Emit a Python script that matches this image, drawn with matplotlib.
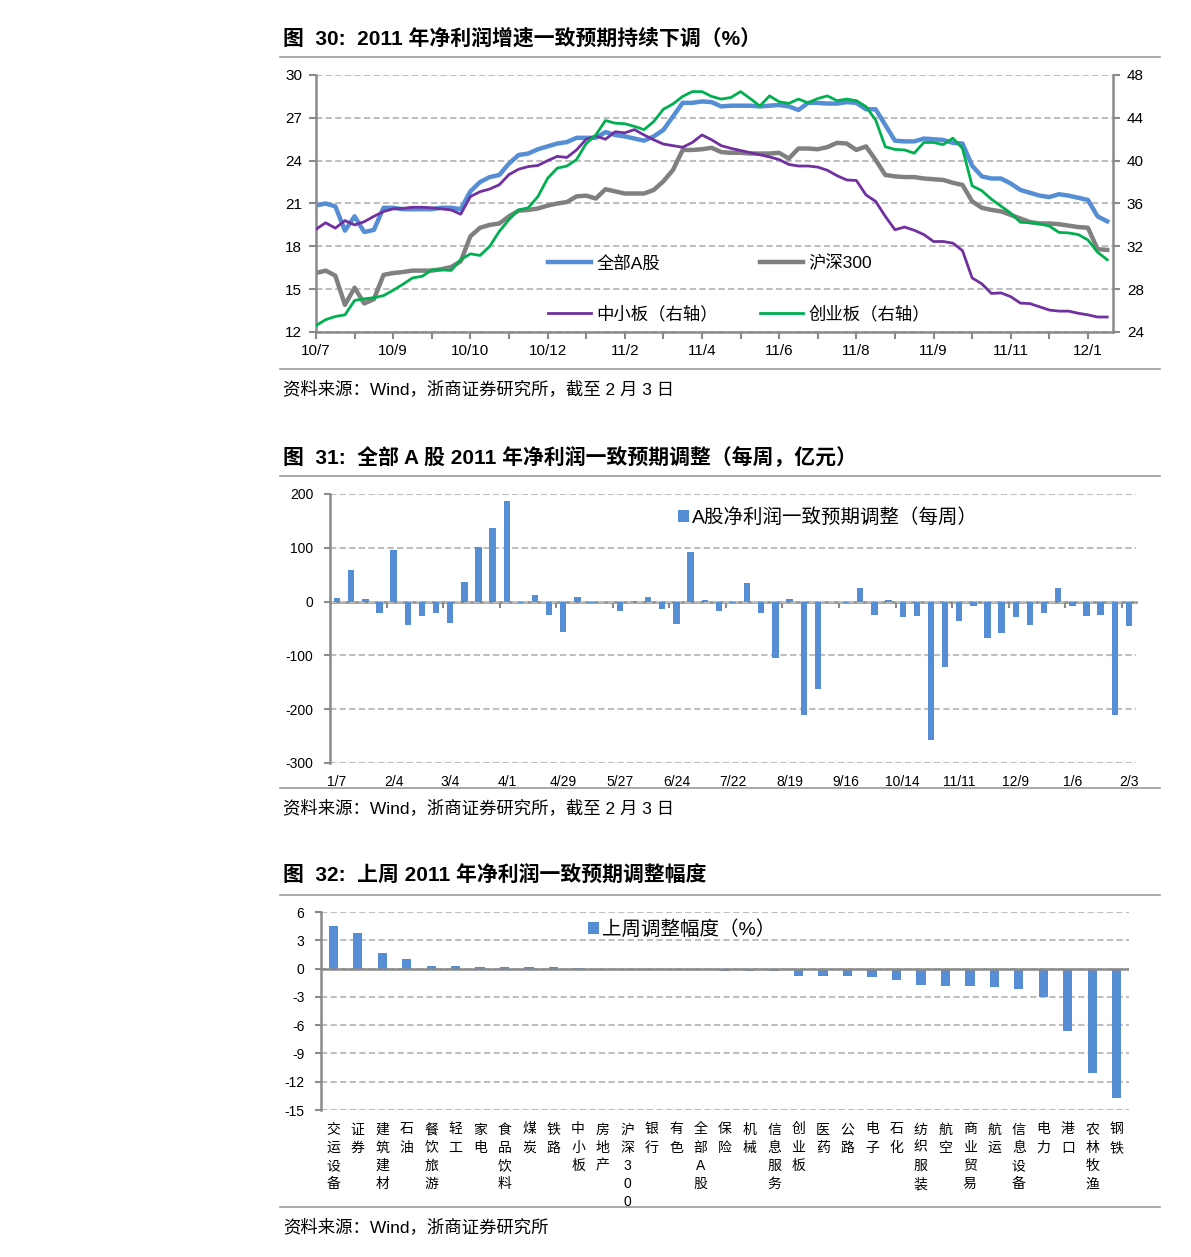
import matplotlib.pyplot as plt
from matplotlib.lines import Line2D
import numpy as np

plt.rcParams['font.family'] = ['Liberation Sans', 'Noto Sans CJK SC', 'DejaVu Sans']
plt.rcParams['axes.unicode_minus'] = False

############ DATA : figure 30 (weekly, 10/7 .. 12/1) ############
month_labels = ['10/7', '10/9', '10/10', '10/12', '11/2', '11/4', '11/6', '11/8', '11/9', '11/11', '12/1']
all_a = [20.86, 21.0, 20.8, 19.1, 20.1, 19.0, 19.15, 20.7, 20.7, 20.6,
         20.6, 20.6, 20.6, 20.7, 20.7, 20.6, 21.85, 22.5, 22.85, 23.0,
         23.8, 24.4, 24.5, 24.8, 25.0, 25.2, 25.3, 25.6, 25.6, 25.6,
         26.0, 25.8, 25.7, 25.55, 25.4, 25.7, 26.15, 27.1, 28.05, 28.05,
         28.15, 28.1, 27.8, 27.85, 27.85, 27.85, 27.8, 27.85, 27.9, 27.8,
         27.55, 28.05, 28.05, 28.0, 28.0, 28.1, 28.05, 27.6, 27.6, 26.5,
         25.4, 25.35, 25.35, 25.55, 25.5, 25.45, 25.25, 25.2, 23.65, 22.9,
         22.75, 22.75, 22.4, 21.95, 21.75, 21.55, 21.45, 21.65, 21.55, 21.4,
         21.25, 20.1, 19.75]
hs300 = [16.13, 16.3, 15.95, 13.9, 15.1, 14.0, 14.3, 16.0, 16.13, 16.2,
         16.3, 16.3, 16.3, 16.4, 16.55, 16.95, 18.7, 19.3, 19.5, 19.6,
         20.1, 20.5, 20.55, 20.65, 20.85, 21.0, 21.1, 21.5, 21.55, 21.35,
         22.0, 21.85, 21.7, 21.7, 21.7, 21.95, 22.55, 23.35, 24.75, 24.75,
         24.8, 24.9, 24.6, 24.55, 24.55, 24.5, 24.5, 24.5, 24.55, 24.15,
         24.85, 24.85, 24.8, 24.95, 25.25, 25.2, 24.75, 25.0, 24.05, 23.0,
         22.9, 22.85, 22.85, 22.75, 22.7, 22.65, 22.45, 22.3, 21.15, 20.7,
         20.55, 20.45, 20.2, 19.95, 19.7, 19.6, 19.6, 19.55, 19.45, 19.35,
         19.3, 17.8, 17.75]
sme = [33.6, 34.2, 33.7, 34.4, 34.0, 34.3, 34.8, 35.25, 35.5, 35.55,
       35.65, 35.65, 35.6, 35.5, 35.4, 35.0, 36.65, 37.1, 37.35, 37.75,
       38.7, 39.2, 39.45, 39.55, 40.0, 40.4, 40.3, 41.0, 42.0, 42.3,
       42.0, 42.7, 42.6, 42.9, 42.4, 41.95, 41.55, 41.4, 41.25, 41.7,
       42.4, 41.95, 41.4, 41.15, 40.95, 40.75, 40.55, 40.35, 40.1, 39.65,
       39.5, 39.5, 39.4, 39.1, 38.6, 38.2, 38.15, 36.8, 36.2, 34.8,
       33.55, 33.8, 33.5, 33.1, 32.45, 32.45, 32.3, 31.6, 29.05, 28.5,
       27.6, 27.65, 27.3, 26.7, 26.65, 26.35, 26.05, 25.95, 25.95, 25.75,
       25.6, 25.4, 25.4]
gem = [24.6, 25.15, 25.45, 25.6, 26.95, 27.1, 27.2, 27.4, 27.9, 28.45,
       29.05, 29.2, 29.8, 29.8, 29.75, 30.75, 31.3, 31.15, 32.0, 33.4,
       34.5, 35.4, 35.6, 36.65, 38.35, 39.3, 39.5, 40.1, 41.6, 42.4,
       43.75, 43.5, 43.45, 43.2, 42.9, 43.65, 44.8, 45.3, 46.0, 46.45,
       46.45, 46.0, 45.75, 45.9, 46.45, 45.8, 45.1, 46.05, 45.5, 45.35,
       45.75, 45.4, 45.8, 46.05, 45.6, 45.75, 45.6, 45.05, 43.8, 41.3,
       41.05, 41.0, 40.7, 41.7, 41.7, 41.5, 42.1, 41.15, 37.65, 37.2,
       36.4, 35.75, 35.1, 34.25, 34.2, 34.1, 33.9, 33.3, 33.25, 33.1,
       32.6, 31.45, 30.75]

############ DATA : figure 31 (weekly adjustment, 1/7 .. 2/3) ############
week_labels = ['1/7', '2/4', '3/4', '4/1', '4/29', '5/27', '6/24', '7/22',
               '8/19', '9/16', '10/14', '11/11', '12/9', '1/6', '2/3']
weekly_adj = [7, 58, 5, -22, 95, -43, -27, -22, -39, 37,
              102, 136, 187, -3, 12, -24, -56, 9, -3, -1,
              -17, 1, 9, -14, -41, 92, 3, -18, -2, 34,
              -22, -104, 4, -211, -163, -1, -2, 25, -24, 3,
              -28, -27, -257, -121, -36, -9, -67, -58, -28, -43,
              -22, 25, -9, -27, -24, -211, -46]

############ DATA : figure 32 (last week by sector) ############
sectors = ['交运设备', '证券', '建筑建材', '石油', '餐饮旅游', '轻工', '家电', '食品饮料',
           '煤炭', '铁路', '中小板', '房地产', '沪深300', '银行', '有色', '全部A股',
           '保险', '机械', '信息服务', '创业板', '医药', '公路', '电子', '石化',
           '纺织服装', '航空', '商业贸易', '航运', '信息设备', '电力', '港口', '农林牧渔', '钢铁']
sector_adj = [4.5, 3.8, 1.7, 1.0, 0.3, 0.3, 0.15, 0.15,
              0.15, 0.15, 0.03, 0.0, 0.0, -0.15, -0.15, -0.15,
              -0.28, -0.28, -0.28, -0.75, -0.75, -0.75, -0.9, -1.2,
              -1.75, -1.9, -1.9, -2.0, -2.15, -3.0, -6.6, -11.1, -13.7]

#################### STYLE ####################
BLUE = '#558ED5'
GRAY = '#808080'
PURPLE = '#7030A0'
GREEN = '#00B050'
AXC = '#8A8A8A'
GRIDC = '#BFBFBF'
W, H = 1191, 1257

fig = plt.figure(figsize=(W / 100, H / 100), dpi=100)

def fx(px):
    return px / W

def fy(py):
    return 1 - py / H

def box(left, right, top, bottom):
    return [fx(left), fy(bottom), (right - left) / W, (bottom - top) / H]

def style_axes(ax):
    for s in ['top', 'right', 'bottom', 'left']:
        ax.spines[s].set_visible(False)
    ax.spines['left'].set_visible(True)
    ax.spines['left'].set_color(AXC)
    ax.spines['left'].set_linewidth(1.8)
    ax.yaxis.grid(True, color=GRIDC, linewidth=1.5, linestyle=(0, (3, 1.6)))
    ax.set_axisbelow(True)
    ax.tick_params(axis='y', colors=AXC, labelcolor='black', length=4, width=1.5)

# titles, separator lines and sources
titles = [(38, '图  30:  2011 年净利润增速一致预期持续下调（%）'),
          (457, '图  31:  全部 A 股 2011 年净利润一致预期调整（每周，亿元）'),
          (875, '图  32:  上周 2011 年净利润一致预期调整幅度')]
for y, t in titles:
    fig.text(fx(283), fy(y), t, fontsize=15, fontweight='bold', va='center', ha='left')
sources = [(389, '资料来源：Wind，浙商证券研究所，截至 2 月 3 日'),
           (808, '资料来源：Wind，浙商证券研究所，截至 2 月 3 日'),
           (1227, '资料来源：Wind，浙商证券研究所')]
for y, t in sources:
    fig.text(fx(283), fy(y), t, fontsize=12.5, va='center', ha='left')
for y in [57, 369, 476, 788, 895, 1207]:
    fig.add_artist(Line2D([fx(280), fx(1160)], [fy(y), fy(y)], color='#9A9A9A', lw=1.2))

################ Figure 30 ################
ax1 = fig.add_axes(box(316, 1113, 75, 332))
ax2 = ax1.twinx()
x = np.arange(len(all_a))
l1, = ax1.plot(x, all_a, color=BLUE, lw=3.2, label='全部A股')
l2, = ax1.plot(x, hs300, color=GRAY, lw=3.2, label='沪深300')
l3, = ax2.plot(x, sme, color=PURPLE, lw=2.0, label='中小板（右轴）')
l4, = ax2.plot(x, gem, color=GREEN, lw=2.0, label='创业板（右轴）')
ax1.set_xlim(0, 82.6)
ax1.set_ylim(12, 30)
ax2.set_ylim(24, 48)
ax1.set_yticks(np.arange(12, 31, 3))
ax2.set_yticks(np.arange(24, 49, 4))
style_axes(ax1)
for s in ['top', 'left', 'bottom']:
    ax2.spines[s].set_visible(False)
ax2.spines['right'].set_color(AXC)
ax2.spines['right'].set_linewidth(1.8)
ax1.spines['bottom'].set_visible(True)
ax1.spines['bottom'].set_color(AXC)
ax1.spines['bottom'].set_linewidth(1.8)
ticks = np.arange(0, 81, 4)
ax1.set_xticks(ticks)
ax1.set_xticklabels([month_labels[i // 2] if i % 2 == 0 else '' for i in range(len(ticks))])
ax1.tick_params(axis='x', colors=AXC, labelcolor='black', length=5, width=1.5, labelsize=11, pad=4)
ax1.tick_params(axis='y', labelsize=11, pad=5, length=5)
ax2.tick_params(axis='y', colors=AXC, labelcolor='black', labelsize=11, pad=5, length=5, width=1.5)
ax2.legend(handles=[l1, l3, l2, l4], ncol=2, loc='upper left', bbox_to_anchor=(0.291, 0.30),
           frameon=False, fontsize=12.5, handlelength=2.5, handletextpad=0.3,
           columnspacing=2.4, labelspacing=1.95, borderpad=0, borderaxespad=0)

################ Figure 31 ################
ax3 = fig.add_axes(box(330, 1136, 494, 763))
xb = np.arange(len(weekly_adj))
ax3.bar(xb, weekly_adj, width=0.45, color=BLUE, label='A股净利润一致预期调整（每周）')
ax3.set_xlim(-0.5, len(weekly_adj) - 0.5)
ax3.set_ylim(-300, 200)
ax3.set_yticks(np.arange(-300, 201, 100))
style_axes(ax3)
ax3.tick_params(axis='y', labelsize=10, pad=8)
ax3.set_xticks(np.arange(0, len(weekly_adj), 4))
ax3.set_xticklabels(week_labels)
ax3.tick_params(axis='x', length=0, labelsize=10, pad=9)
zero3 = ax3.secondary_xaxis(0.6)
zero3.set_alignment('bottom')
zero3.set_xticks(np.arange(3.5, len(weekly_adj), 4))
zero3.tick_params(axis='x', colors=AXC, length=4, width=1.5, labelbottom=False)
zero3.spines['bottom'].set_color(AXC)
zero3.spines['bottom'].set_linewidth(1.8)
ax3.legend(loc='center left', bbox_to_anchor=(0.432, 0.912), frameon=False, fontsize=14,
           handlelength=0.55, handleheight=0.55, handletextpad=0.15, borderpad=0, borderaxespad=0)

################ Figure 32 ################
ax4 = fig.add_axes(box(321, 1129, 912, 1110))
xs = np.arange(len(sectors))
ax4.bar(xs, sector_adj, width=0.38, color=BLUE, label='上周调整幅度（%）')
ax4.set_xlim(-0.5, len(sectors) - 0.5)
ax4.set_ylim(-15, 6)
ax4.set_yticks(np.arange(-15, 7, 3))
style_axes(ax4)
ax4.tick_params(axis='y', labelsize=10, pad=8)
ax4.axhline(0, color=AXC, lw=1.8)
ax4.set_xticks(xs)
ax4.set_xticklabels(['\n'.join(s) for s in sectors], linespacing=1.38)
ax4.tick_params(axis='x', length=0, labelsize=10, pad=9)
ax4.legend(loc='center left', bbox_to_anchor=(0.3305, 0.912), frameon=False, fontsize=14,
           handlelength=0.55, handleheight=0.55, handletextpad=0.15, borderpad=0, borderaxespad=0)

fig.savefig('out.png', dpi=100)
